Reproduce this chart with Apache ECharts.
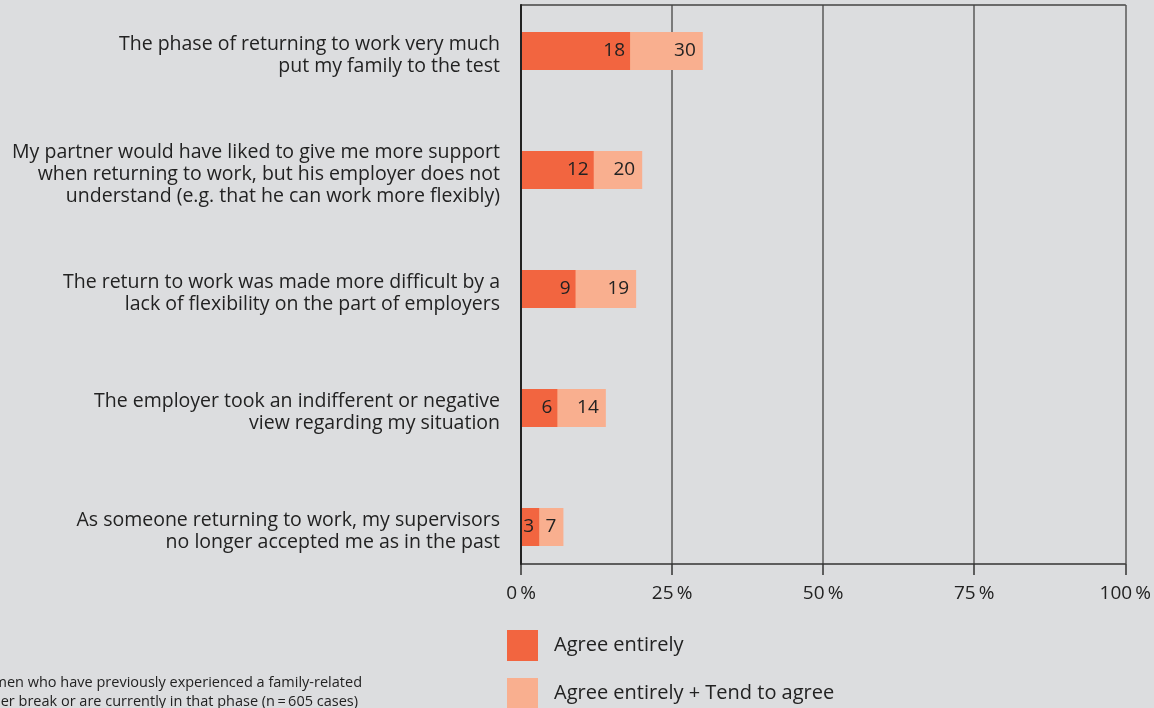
<!DOCTYPE html>
<html>
<head>
<meta charset="utf-8">
<script src="https://cdn.jsdelivr.net/npm/echarts@6/dist/echarts.min.js"></script>
<style>
  html, body { margin: 0; padding: 0; background: #dcdddf; }
  #chart { width: 1154px; height: 708px; }
</style>
</head>
<body>
<div id="chart"></div>
<script>
// Statements (top to bottom)
const categories = [
  'The phase of returning to work very much\nput my family to the test',
  'My partner would have liked to give me more support\nwhen returning to work, but his employer does not\nunderstand (e.g. that he can work more flexibly)',
  'The return to work was made more difficult by a\nlack of flexibility on the part of employers',
  'The employer took an indifferent or negative\nview regarding my situation',
  'As someone returning to work, my supervisors\nno longer accepted me as in the past'
];
// Shares in percent
const agreeEntirely = [18, 12, 9, 6, 3];
const agreeTotal = [30, 20, 19, 14, 7];
const seriesNames = ['Agree entirely', 'Agree entirely + Tend to agree'];
const tickSuffix = '\u2009%';
const noteLines = [
  'Women who have previously experienced a family-related',
  'career break or are currently in that phase (n\u2009=\u2009605 cases)'
];

const FONT = 'Open Sans';
const TEXT = '#222';
const DARK = '#f26540';
const LIGHT = '#f9af8f';

const chart = echarts.init(document.getElementById('chart'), null, { renderer: 'canvas' });

chart.setOption({
  backgroundColor: '#dcdddf',
  animation: false,
  textStyle: { fontFamily: FONT, color: TEXT },
  grid: [
    // bars: one category per tick, first at y=51, step 119
    { left: 521, right: 27, top: 51, height: 476 },
    // axes frame
    { left: 521, right: 27, top: 5, bottom: 144 },
    // statement labels, set slightly lower than the bar centres
    { left: 521, right: 27, top: 55, height: 476 }
  ],
  legend: {
    orient: 'vertical',
    left: 507,
    top: 630,
    height: 90,
    padding: 0,
    itemWidth: 31,
    itemHeight: 31,
    itemGap: 17,
    icon: 'rect',
    data: seriesNames,
    textStyle: { fontFamily: FONT, fontSize: 20, color: TEXT, padding: [0, 0, 0, 11] }
  },
  xAxis: [
    { gridIndex: 0, type: 'value', min: 0, max: 100, show: false },
    {
      gridIndex: 1, type: 'value', min: 0, max: 100, interval: 25, position: 'bottom',
      axisLine: { show: true, lineStyle: { color: '#333', width: 1.5 } },
      axisTick: { show: true, length: 11, lineStyle: { color: '#333', width: 1.5 } },
      splitLine: { show: true, lineStyle: { color: '#7a7a7a', width: 2 } },
      axisLabel: {
        margin: 20, fontFamily: FONT, fontSize: 19, color: TEXT,
        formatter: v => v + tickSuffix
      }
    },
    {
      gridIndex: 1, type: 'value', min: 0, max: 100, position: 'top',
      axisLine: { show: true, lineStyle: { color: '#444', width: 1.5 } },
      axisTick: { show: false }, axisLabel: { show: false }, splitLine: { show: false }
    },
    { gridIndex: 2, type: 'value', min: 0, max: 100, show: false }
  ],
  yAxis: [
    {
      gridIndex: 0, type: 'category', inverse: true, data: categories, boundaryGap: false,
      axisLine: { show: false }, axisTick: { show: false }, splitLine: { show: false },
      axisLabel: { show: false }
    },
    {
      gridIndex: 1, type: 'value', min: 0, max: 1, z: 5,
      axisLine: { show: true, lineStyle: { color: '#222', width: 2 } },
      axisTick: { show: false }, axisLabel: { show: false }, splitLine: { show: false }
    },
    {
      gridIndex: 2, type: 'category', inverse: true, data: categories, boundaryGap: false,
      axisLine: { show: false }, axisTick: { show: false }, splitLine: { show: false },
      axisLabel: {
        margin: 21, fontFamily: FONT, fontSize: 19.5, lineHeight: 22,
        color: TEXT, align: 'right'
      }
    }
  ],
  series: [
    {
      name: seriesNames[1], type: 'bar', xAxisIndex: 0, yAxisIndex: 0,
      data: agreeTotal, barWidth: 38, barGap: '-100%', clip: false,
      itemStyle: { color: LIGHT },
      label: {
        show: true, position: 'insideRight', distance: 7,
        fontFamily: FONT, fontSize: 19, color: TEXT
      }
    },
    {
      name: seriesNames[0], type: 'bar', xAxisIndex: 0, yAxisIndex: 0,
      data: agreeEntirely, barWidth: 38, barGap: '-100%', clip: false,
      itemStyle: { color: DARK },
      label: {
        show: true, position: 'insideRight', distance: 5,
        fontFamily: FONT, fontSize: 19, color: TEXT
      }
    }
  ],
  graphic: [
    {
      type: 'text', right: 792, top: 675,
      style: { text: noteLines[0], font: '14.5px ' + FONT, fill: TEXT, textAlign: 'right' }
    },
    {
      type: 'text', right: 796, top: 694,
      style: { text: noteLines[1], font: '14.5px ' + FONT, fill: TEXT, textAlign: 'right' }
    }
  ]
});
</script>
</body>
</html>
